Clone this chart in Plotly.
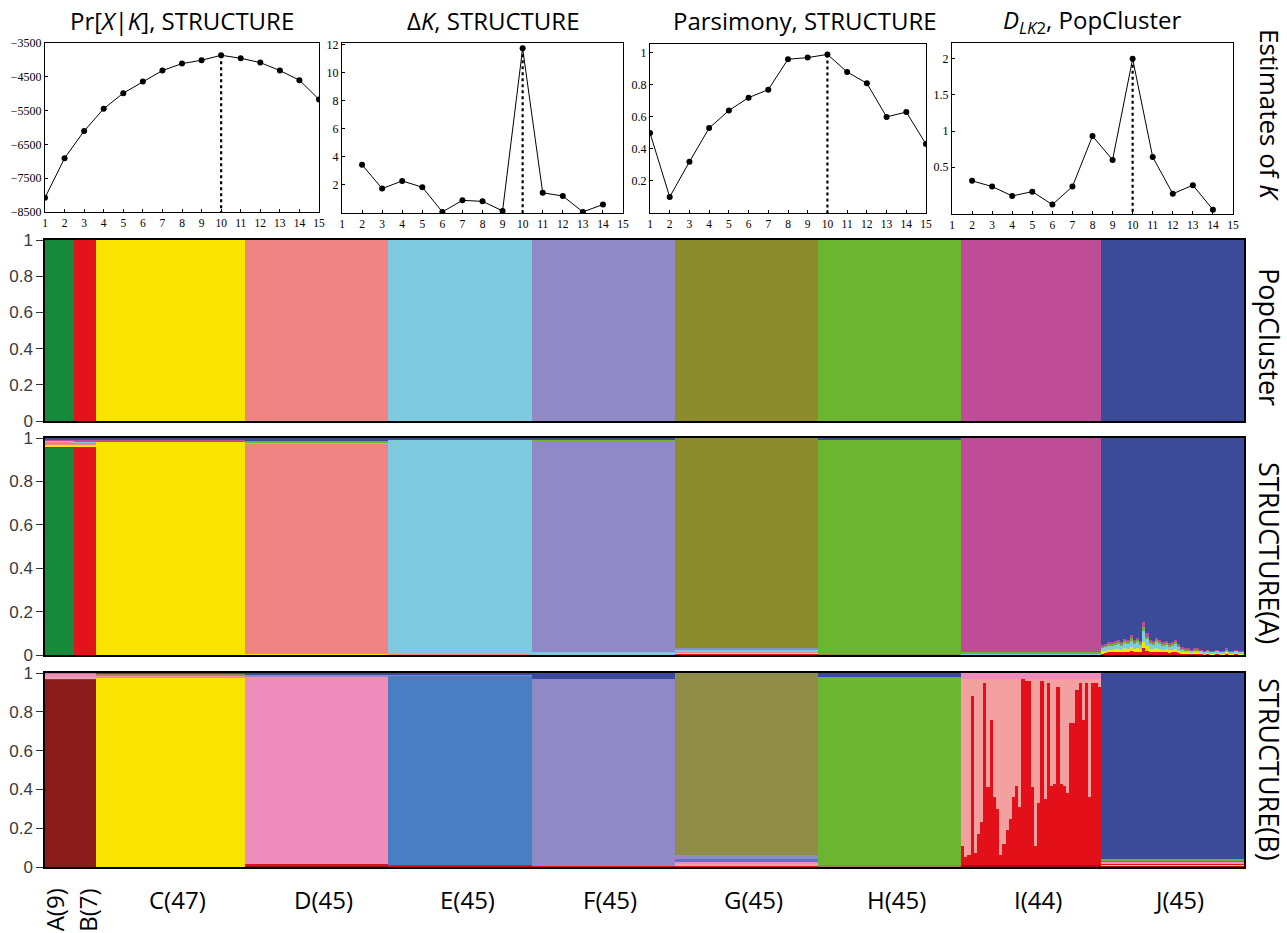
import plotly.graph_objects as go

# ---------------- data ----------------
K_VALUES = list(range(1, 16))
PR_X_K = [-8078, -6909, -6103, -5445, -4983, -4640, -4315, -4109, -4011, -3863,
          -3952, -4080, -4315, -4600, -5170]
DELTA_K_X = list(range(2, 15))
DELTA_K = [3.43, 1.74, 2.28, 1.84, 0.08, 0.90, 0.83, 0.15, 11.72, 1.44, 1.21, 0.08, 0.60]
PARSIMONY = [0.50, 0.10, 0.32, 0.53, 0.64, 0.72, 0.77, 0.96, 0.97, 0.99,
             0.88, 0.81, 0.60, 0.63, 0.43]
DLK2_X = list(range(2, 15))
DLK2 = [0.31, 0.23, 0.10, 0.16, -0.02, 0.23, 0.93, 0.60, 2.00, 0.64, 0.13, 0.25, -0.09]
BEST_K = 10

GROUPS = ["A", "B", "C", "D", "E", "F", "G", "H", "I", "J"]
GROUP_SIZES = [9, 7, 47, 45, 45, 45, 45, 45, 44, 45]

# PopCluster: cluster order A..J
POP_COLORS = ["#17893b", "#e3121b", "#f9e400", "#ee8484", "#7ecbe0",
              "#8f8ac6", "#8b8a2d", "#6cb531", "#bf4c97", "#3c4a9a"]
POP_Q = [
    [1, 0, 0, 0, 0, 0, 0, 0, 0, 0],
    [0, 1, 0, 0, 0, 0, 0, 0, 0, 0],
    [0, 0, 1, 0, 0, 0, 0, 0, 0, 0],
    [0, 0, 0, 1, 0, 0, 0, 0, 0, 0],
    [0, 0, 0, 0, 1, 0, 0, 0, 0, 0],
    [0, 0, 0, 0, 0, 1, 0, 0, 0, 0],
    [0, 0, 0, 0, 0, 0, 1, 0, 0, 0],
    [0, 0, 0, 0, 0, 0, 0, 1, 0, 0],
    [0, 0, 0, 0, 0, 0, 0, 0, 1, 0],
    [0, 0, 0, 0, 0, 0, 0, 0, 0, 1],
]

# STRUCTURE(A): same cluster colours, group mean memberships
STA_COLORS = POP_COLORS
STA_Q = [
    [0.955, 0.005, 0.010, 0.010, 0.010, 0.000, 0.000, 0.000, 0.005, 0.005],
    [0.000, 0.960, 0.010, 0.010, 0.005, 0.000, 0.000, 0.000, 0.005, 0.010],
    [0.000, 0.000, 0.980, 0.000, 0.000, 0.000, 0.000, 0.000, 0.010, 0.010],
    [0.000, 0.000, 0.005, 0.970, 0.005, 0.000, 0.000, 0.005, 0.000, 0.015],
    [0.000, 0.000, 0.000, 0.005, 0.990, 0.000, 0.000, 0.000, 0.000, 0.005],
    [0.000, 0.000, 0.000, 0.000, 0.015, 0.975, 0.000, 0.005, 0.000, 0.005],
    [0.000, 0.005, 0.005, 0.005, 0.010, 0.005, 0.970, 0.000, 0.000, 0.000],
    [0.000, 0.000, 0.000, 0.000, 0.000, 0.000, 0.005, 0.985, 0.000, 0.010],
    [0.000, 0.000, 0.000, 0.000, 0.005, 0.005, 0.000, 0.005, 0.985, 0.000],
    None,  # group J drawn individual by individual
]
# group J in STRUCTURE(A): admixture at the bottom of each bar (total, read per individual)
J_NOISE_A = [0.045, 0.05, 0.06, 0.06, 0.065, 0.07, 0.06, 0.075, 0.07, 0.09,
             0.07, 0.08, 0.065, 0.15, 0.10, 0.07, 0.065, 0.08, 0.07, 0.06,
             0.065, 0.055, 0.06, 0.07, 0.05, 0.035, 0.03, 0.03, 0.025, 0.03,
             0.03, 0.025, 0.02, 0.025, 0.02, 0.02, 0.025, 0.02, 0.02, 0.03,
             0.02, 0.02, 0.025, 0.02, 0.02]
# share of that admixture per cluster (red, yellow, light blue, green, magenta)
J_NOISE_SPLIT = [0.0, 0.2, 0.2, 0.0, 0.35, 0.0, 0.0, 0.1, 0.15, 0.0]

# STRUCTURE(B): stacking order (bottom -> top)
STB_COLORS = ["#8b1a1a", "#f9e400", "#e3101a", "#f2a0a0", "#ee8cbb",
              "#4a7ec3", "#8f8ac6", "#8e8c47", "#6cb531", "#3c4a9a"]
STB_Q = [
    [0.965, 0.000, 0.005, 0.010, 0.015, 0.000, 0.005, 0.000, 0.000, 0.000],
    [0.965, 0.000, 0.005, 0.010, 0.015, 0.000, 0.005, 0.000, 0.000, 0.000],
    [0.000, 0.975, 0.000, 0.000, 0.010, 0.000, 0.005, 0.005, 0.000, 0.005],
    [0.010, 0.000, 0.005, 0.000, 0.965, 0.000, 0.010, 0.000, 0.000, 0.010],
    [0.005, 0.000, 0.005, 0.000, 0.000, 0.975, 0.005, 0.000, 0.000, 0.010],
    [0.000, 0.000, 0.005, 0.000, 0.000, 0.000, 0.965, 0.000, 0.000, 0.030],
    [0.000, 0.000, 0.010, 0.010, 0.010, 0.010, 0.020, 0.940, 0.000, 0.000],
    [0.000, 0.000, 0.000, 0.000, 0.000, 0.000, 0.000, 0.010, 0.970, 0.020],
    None,  # group I drawn individual by individual
    [0.010, 0.005, 0.005, 0.005, 0.005, 0.005, 0.000, 0.000, 0.005, 0.960],
]
# group I in STRUCTURE(B): per-individual proportions
I_DARKRED = 0.01
I_TOP = 0.03
I_RED = [0.10, 0.04, 0.05, 0.87, 0.06, 0.16, 0.22, 0.94, 0.40, 0.75, 0.35,
         0.29, 0.05, 0.11, 0.18, 0.24, 0.35, 0.41, 0.30, 0.96, 0.95, 0.95,
         0.40, 0.10, 0.32, 0.95, 0.34, 0.94, 0.41, 0.42, 0.92, 0.42, 0.41,
         0.37, 0.73, 0.73, 0.90, 0.94, 0.75, 0.94, 0.35, 0.94, 0.94, 0.92]

PANEL_LABELS = ["PopCluster", "STRUCTURE(A)", "STRUCTURE(B)"]


def j_struct_a(j):
    t = J_NOISE_A[j]
    comp = [t * f for f in J_NOISE_SPLIT]
    comp[9] = 1 - t
    return comp


def i_struct_b(j):
    r = I_RED[j]
    comp = [I_DARKRED, 0, r, max(0.0, 1 - I_DARKRED - r - I_TOP), 0, 0, 0, 0, 0, 0]
    comp[4] = 1 - sum(comp)
    return comp


INDIVIDUAL = [None, j_struct_a, i_struct_b]

# ---------------- layout helpers ----------------
W, H = 1287, 933


def fx(p):
    return p / W


def fy(p):
    return 1 - p / H


fig = go.Figure()
layout = {}

SERIF = "Liberation Serif"
SANS = "Open Sans"

top_plots = [
    (K_VALUES, PR_X_K, (45, 319), (43, 212), [-8500, -3500],
     [-8500, -7500, -6500, -5500, -4500, -3500]),
    (DELTA_K_X, DELTA_K, (342, 623), (43, 213), [0, 12.1],
     [2, 4, 6, 8, 10, 12]),
    (K_VALUES, PARSIMONY, (650, 926), (44, 213), [0, 1.055],
     [0.2, 0.4, 0.6, 0.8, 1]),
    (DLK2_X, DLK2, (952, 1233), (43, 214), [-0.15, 2.22],
     [0.5, 1, 1.5, 2]),
]
titles = [
    ("Pr[<i>X</i>|<i>K</i>], STRUCTURE", 182),
    ("Δ<i>K</i>, STRUCTURE", 493),
    ("Parsimony, STRUCTURE", 805),
    ("<i>D<sub>LK</sub></i><sub>2</sub>, PopCluster", 1092),
]


def fmt(v):
    s = ("%g" % v)
    return s.replace("-", "\u2212")


for i, (xs, ys, (x0, x1), (y0, y1), yr, yt) in enumerate(top_plots):
    n = i + 1
    xa = "x" if n == 1 else "x%d" % n
    ya = "y" if n == 1 else "y%d" % n
    fig.add_trace(go.Scatter(x=xs, y=ys, xaxis=xa, yaxis=ya, mode="lines+markers",
                             line=dict(color="black", width=1),
                             marker=dict(color="black", size=6),
                             showlegend=False, hoverinfo="skip"))
    best = ys[xs.index(BEST_K)]
    fig.add_trace(go.Scatter(x=[BEST_K, BEST_K], y=[best, yr[0]], xaxis=xa, yaxis=ya,
                             mode="lines", line=dict(color="black", width=2.2, dash="dot"),
                             showlegend=False, hoverinfo="skip"))
    layout["xaxis" if n == 1 else "xaxis%d" % n] = dict(
        domain=[fx(x0), fx(x1)], anchor=ya, range=[1, 15], tickmode="array",
        tickvals=K_VALUES, ticktext=[str(k) for k in K_VALUES], automargin=False,
        showline=True, mirror=True, linecolor="black", linewidth=1,
        ticks="inside", ticklen=3, tickcolor="black", showgrid=False, zeroline=False,
        tickfont=dict(family=SERIF, size=11.5, color="black"))
    layout["yaxis" if n == 1 else "yaxis%d" % n] = dict(
        domain=[fy(y1), fy(y0)], anchor=xa, range=yr, tickmode="array",
        tickvals=yt, ticktext=[fmt(v) for v in yt], automargin=False,
        showline=True, mirror=True, linecolor="black", linewidth=1,
        ticks="inside", ticklen=3, tickcolor="black", showgrid=False, zeroline=False,
        tickfont=dict(family=SERIF, size=12, color="black"))

annotations = []
for text, cx in titles:
    annotations.append(dict(text=text, x=fx(cx), y=fy(21), xref="paper", yref="paper",
                            showarrow=False, xanchor="center", yanchor="middle",
                            font=dict(family=SANS, size=24, color="black")))
annotations.append(dict(text="Estimates of <i>K</i>", x=fx(1270), y=fy(115),
                        xref="paper", yref="paper", showarrow=False, textangle=90,
                        xanchor="center", yanchor="middle",
                        font=dict(family=SANS, size=26, color="black")))

# ---------------- admixture panels ----------------
starts = []
s = 0
for n_ in GROUP_SIZES:
    starts.append(s)
    s += n_
TOTAL = s

panels = [
    (POP_COLORS, POP_Q, (240, 421), PANEL_LABELS[0], 337),
    (STA_COLORS, STA_Q, (438, 655), PANEL_LABELS[1], 553),
    (STB_COLORS, STB_Q, (673, 867), PANEL_LABELS[2], 769),
]

for p, (colors, Q, (y0, y1), label, ly) in enumerate(panels):
    n = 5 + p
    xa, ya = "x%d" % n, "y%d" % n
    for k, col in enumerate(colors):
        xs, ws, vs = [], [], []
        for g, row in enumerate(Q):
            if row is None:
                iS = starts[g]
                for j in range(GROUP_SIZES[g]):
                    comp = INDIVIDUAL[p](j)
                    xs.append(iS + j + 0.5)
                    ws.append(1.02)
                    vs.append(comp[k])
            else:
                xs.append(starts[g] + GROUP_SIZES[g] / 2)
                ws.append(GROUP_SIZES[g])
                vs.append(row[k])
        fig.add_trace(go.Bar(x=xs, y=vs, width=ws, xaxis=xa, yaxis=ya,
                             marker=dict(color=col, line=dict(width=0)),
                             showlegend=False, hoverinfo="skip"))
    layout["xaxis%d" % n] = dict(domain=[fx(45), fx(1244)], anchor=ya, range=[0, TOTAL],
                                 showticklabels=False, ticks="", showline=True, mirror=True,
                                 linecolor="black", linewidth=1.5, showgrid=False,
                                 zeroline=False, automargin=False)
    layout["yaxis%d" % n] = dict(domain=[fy(y1), fy(y0)], anchor=xa, range=[0, 1],
                                 tickmode="array", tickvals=[0, 0.2, 0.4, 0.6, 0.8, 1],
                                 ticktext=["0", "0.2", "0.4", "0.6", "0.8", "1"],
                                 ticks="outside", ticklen=7, tickcolor="#333333",
                                 showline=True, mirror=True, linecolor="black", linewidth=1.5,
                                 showgrid=False, zeroline=False, automargin=False,
                                 tickfont=dict(family="Liberation Sans", size=17, color="#3a3a3a"))
    annotations.append(dict(text=label, x=fx(1270), y=fy(ly), xref="paper", yref="paper",
                            showarrow=False, textangle=90, xanchor="center", yanchor="middle",
                            font=dict(family=SANS, size=27, color="black")))

# group labels under the last panel
for g, name in enumerate(GROUPS):
    center = starts[g] + GROUP_SIZES[g] / 2
    text = "%s(%d)" % (name, GROUP_SIZES[g])
    if g < 2:
        annotations.append(dict(text=text, x=center, y=fy(910), xref="x7", yref="paper",
                                showarrow=False, textangle=-90, xanchor="center",
                                yanchor="middle", xshift=(-5 if g == 0 else 2),
                                font=dict(family=SANS, size=24, color="black")))
    else:
        annotations.append(dict(text=text, x=center, y=fy(899), xref="x7", yref="paper",
                                showarrow=False, xanchor="center", yanchor="middle",
                                xshift=7, font=dict(family=SANS, size=24, color="black")))

fig.update_layout(width=W, height=H, margin=dict(l=0, r=0, t=0, b=0, autoexpand=False),
                  paper_bgcolor="white", plot_bgcolor="white", barmode="stack",
                  bargap=0, annotations=annotations, **layout)

fig.write_html("out.html", config={"displayModeBar": False},
               post_script="document.body.style.margin='0';"
                           "document.body.style.overflow='hidden';")
